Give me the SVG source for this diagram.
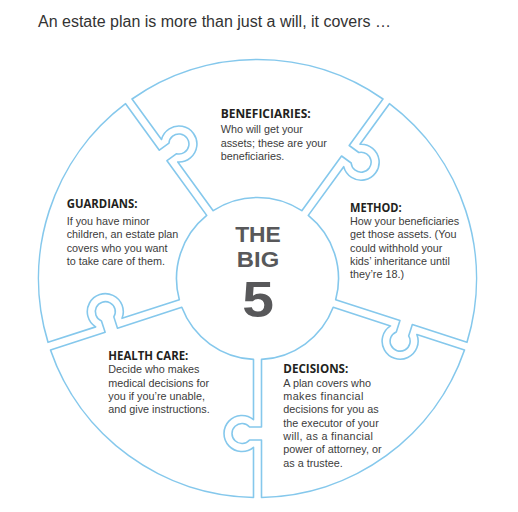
<svg xmlns="http://www.w3.org/2000/svg" width="518" height="512" viewBox="0 0 518 512">
<style>
.pc{fill:#ffffff;stroke:#85c8ec;stroke-width:1.6;stroke-linejoin:round}
.hd{font-family:"Open Sans","Liberation Sans",sans-serif;font-weight:700;font-size:12px;fill:#231f20}
.bd{font-family:"Liberation Sans",Arial,sans-serif;font-size:10.8px;fill:#3c3c3c}
.ttl{font-family:"Liberation Sans",Arial,sans-serif;font-size:16px;fill:#333333}
.big{font-family:"Liberation Sans",Arial,sans-serif;font-weight:700;fill:#58585a;text-anchor:middle}
</style>
<defs>
<path id="piece" d="M -44.316 -67.801 L -79.730 -116.544 A 18 18 0 1 0 -96.012 -138.954 L -125.465 -179.494 A 219 219 0 0 1 125.465 -179.494 L 91.691 -133.007 L 101.318 -126.013 A 10 10 0 1 1 93.677 -115.495 L 84.050 -122.489 L 44.316 -67.801 A 81 81 0 0 0 -44.316 -67.801 Z"/>
</defs>
<text class="ttl" x="38" y="26.5">An estate plan is more than just a will, it covers …</text>
<g id="beneficiaries">
<use href="#piece" class="pc" transform="translate(257.5 278.5)"/>
<text class="hd" x="220.7" y="118.3" textLength="90" lengthAdjust="spacingAndGlyphs">BENEFICIARIES:</text>
<text class="bd" x="220.7" y="133.3">Who will get your</text>
<text class="bd" x="220.7" y="146.7">assets; these are your</text>
<text class="bd" x="220.7" y="160">beneficiaries.</text>
</g>
<g id="method">
<use href="#piece" class="pc" transform="translate(257.5 278.5) rotate(72)"/>
<text class="hd" x="350" y="211.7" textLength="51.7" lengthAdjust="spacingAndGlyphs">METHOD:</text>
<text class="bd" x="350" y="225">How your beneficiaries</text>
<text class="bd" x="350" y="238.3">get those assets. (You</text>
<text class="bd" x="350" y="251.7">could withhold your</text>
<text class="bd" x="350" y="265">kids’ inheritance until</text>
<text class="bd" x="350" y="278.3">they’re 18.)</text>
</g>
<g id="decisions">
<use href="#piece" class="pc" transform="translate(257.5 278.5) rotate(144)"/>
<text class="hd" x="283.3" y="373.3" textLength="65" lengthAdjust="spacingAndGlyphs">DECISIONS:</text>
<text class="bd" x="283.3" y="386.7">A plan covers who</text>
<text class="bd" x="283.3" y="400" letter-spacing="0.4">makes financial</text>
<text class="bd" x="283.3" y="413.3">decisions for you as</text>
<text class="bd" x="283.3" y="426.7">the executor of your</text>
<text class="bd" x="283.3" y="440" letter-spacing="0.3">will, as a financial</text>
<text class="bd" x="283.3" y="453.3">power of attorney, or</text>
<text class="bd" x="283.3" y="466.7">as a trustee.</text>
</g>
<g id="health-care">
<use href="#piece" class="pc" transform="translate(257.5 278.5) rotate(216)"/>
<text class="hd" x="108.3" y="360" textLength="80" lengthAdjust="spacingAndGlyphs">HEALTH CARE:</text>
<text class="bd" x="108.3" y="373.3">Decide who makes</text>
<text class="bd" x="108.3" y="386.7">medical decisions for</text>
<text class="bd" x="108.3" y="400">you if you’re unable,</text>
<text class="bd" x="108.3" y="413.3">and give instructions.</text>
</g>
<g id="guardians">
<use href="#piece" class="pc" transform="translate(257.5 278.5) rotate(288)"/>
<text class="hd" x="66.7" y="208.3" textLength="70.7" lengthAdjust="spacingAndGlyphs">GUARDIANS:</text>
<text class="bd" x="66.7" y="225">If you have minor</text>
<text class="bd" x="66.7" y="238.3">children, an estate plan</text>
<text class="bd" x="66.7" y="251.7">covers who you want</text>
<text class="bd" x="66.7" y="265">to take care of them.</text>
</g>
<g id="the-big-5">
<text class="big" x="258" y="242.4" font-size="22" textLength="45.7" lengthAdjust="spacingAndGlyphs">THE</text>
<text class="big" x="258" y="267" font-size="22" textLength="42.3" lengthAdjust="spacingAndGlyphs">BIG</text>
<text class="big" x="258" y="317" font-size="50" textLength="31.7" lengthAdjust="spacingAndGlyphs">5</text>
</g>
</svg>
